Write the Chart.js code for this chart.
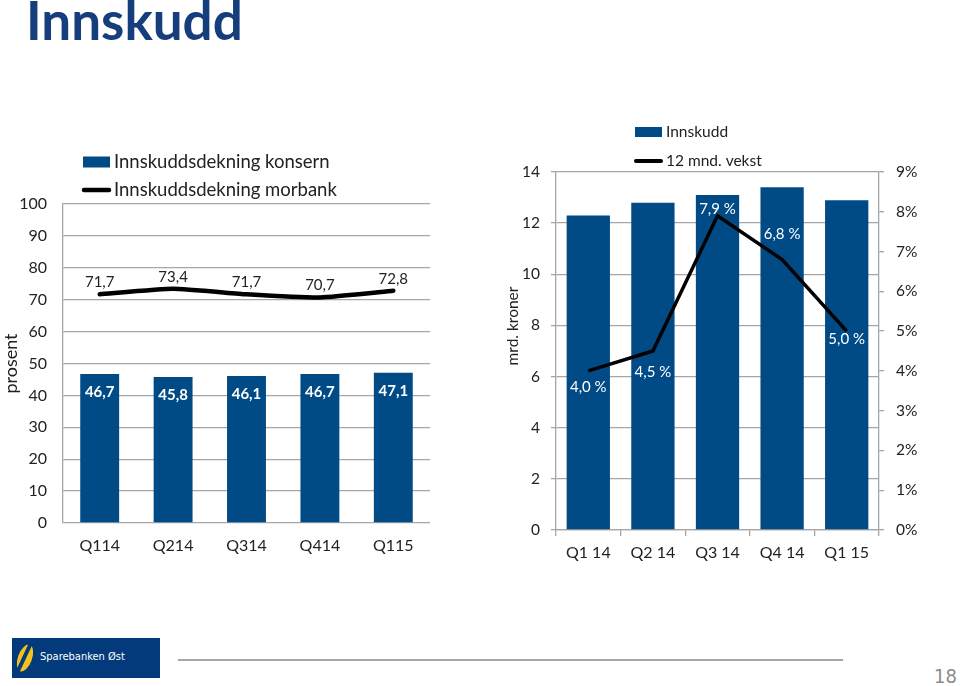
<!DOCTYPE html>
<html><head><meta charset="utf-8">
<script src="https://cdn.jsdelivr.net/npm/chart.js@4.4.1/dist/chart.umd.min.js"></script>
<style>
body{margin:0;width:960px;height:686px;background:#fff;position:relative;overflow:hidden;font-family:Lato,'Open Sans',sans-serif;}
#title{position:absolute;left:26px;top:-12px;font:bold 53px Lato,sans-serif;color:#163E7C;letter-spacing:0px;}
#c1{position:absolute;left:0;top:130px;}
#c2{position:absolute;left:480px;top:100px;}
#logo{position:absolute;left:12px;top:638px;width:148px;height:40px;background:#023A7B;overflow:hidden;}
#swoosh{position:absolute;left:6px;top:6px;width:14px;height:28px;border-radius:50%;background:#F5C21B;transform:rotate(20deg);}
#swoosh2{position:absolute;left:10px;top:4px;width:4px;height:32px;background:#023A7B;transform:rotate(25deg);}
#logotext{position:absolute;left:28px;top:12px;color:#fff;font:11px 'DejaVu Sans Condensed','DejaVu Sans',sans-serif;}
#hr{position:absolute;left:178px;top:659px;width:665px;height:2px;background:#A6A6A6;}
#page{position:absolute;left:934px;top:664px;font:20px 'Liberation Sans Narrow','DejaVu Sans Condensed',sans-serif;color:#8C8C8C;}
</style></head>
<body>
<div id="title">Innskudd</div>
<canvas id="c1" width="470" height="450"></canvas>
<canvas id="c2" width="480" height="480"></canvas>
<div id="logo"><div id="swoosh"></div><div id="swoosh2"></div><div id="logotext">Sparebanken Øst</div></div>
<div id="hr"></div>
<div id="page">18</div>
<script>
// ---- data ----
const leftCategories = ['Q114','Q214','Q314','Q414','Q115'];
const konsern = [46.7, 45.8, 46.1, 46.7, 47.1];
const morbank = [71.7, 73.4, 71.7, 70.7, 72.8];
const leftTicks = [0,10,20,30,40,50,60,70,80,90,100];

const rightCategories = ['Q1 14','Q2 14','Q3 14','Q4 14','Q1 15'];
const innskudd = [12.3, 12.8, 13.1, 13.4, 12.9];
const vekst = [4.0, 4.5, 7.9, 6.8, 5.0];
const rightTicksLeft = [0,2,4,6,8,10,12,14];
const rightTicksRight = [0,1,2,3,4,5,6,7,8,9];

const BAR = '#004A86';
const GRID = '#A6A6A6';
const TXT = '#222222';
const FONT = "Lato, 'Open Sans', sans-serif";
const fmt = v => v.toFixed(1).replace('.', ',');

// custom stacked legend
const stackLegend = {
  id: 'stackLegend',
  afterDraw(chart, args, o) {
    const ctx = chart.ctx;
    ctx.save();
    chart.data.datasets.forEach((ds, i) => {
      const y = o.y + i * o.gap;
      if (ds.type === 'line') {
        ctx.strokeStyle = '#000'; ctx.lineWidth = o.lw; ctx.lineCap = 'round';
        ctx.beginPath(); ctx.moveTo(o.x + 1, y); ctx.lineTo(o.x + o.boxW - 1, y); ctx.stroke();
      } else {
        ctx.fillStyle = ds.backgroundColor;
        ctx.fillRect(o.x, y - o.boxH / 2, o.boxW, o.boxH);
      }
      ctx.fillStyle = TXT;
      ctx.font = o.size + 'px ' + FONT;
      ctx.textBaseline = 'middle'; ctx.textAlign = 'left';
      ctx.fillText(ds.label, o.x + o.boxW + 4, y);
    });
    ctx.restore();
  }
};

// value labels
const valueLabels = {
  id: 'valueLabels',
  afterDatasetsDraw(chart, args, o) {
    const ctx = chart.ctx;
    ctx.save();
    (o.sets || []).forEach(s => {
      const meta = chart.getDatasetMeta(s.index);
      const data = chart.data.datasets[s.index].data;
      ctx.font = (s.bold ? 'bold ' : '') + s.size + 'px ' + FONT;
      ctx.fillStyle = s.color;
      ctx.textAlign = 'center'; ctx.textBaseline = 'middle';
      meta.data.forEach((el, j) => {
        const off = Array.isArray(s.offset) ? s.offset[j] : s.offset;
        ctx.fillText(s.format(data[j]), el.x, el.y + off);
      });
    });
    ctx.restore();
  }
};

// free text (axis title placed freely)
const freeText = {
  id: 'freeText',
  afterDraw(chart, args, o) {
    const ctx = chart.ctx;
    ctx.save();
    (o.items || []).forEach(t => {
      ctx.translate(t.x, t.y);
      ctx.rotate(t.rot || 0);
      ctx.font = t.size + 'px ' + FONT;
      ctx.fillStyle = TXT; ctx.textAlign = 'center'; ctx.textBaseline = 'middle';
      ctx.fillText(t.text, 0, 0);
      ctx.setTransform(1,0,0,1,0,0);
    });
    ctx.restore();
  }
};

Chart.defaults.font.family = FONT;
Chart.defaults.color = TXT;

new Chart(document.getElementById('c1'), {
  data: {
    labels: leftCategories,
    datasets: [
      { type: 'bar', label: 'Innskuddsdekning konsern', data: konsern, backgroundColor: BAR, barPercentage: 0.53, categoryPercentage: 1, order: 2 },
      { type: 'line', label: 'Innskuddsdekning morbank', data: morbank, borderColor: '#000', borderWidth: 4.5, pointRadius: 0, tension: 0.15, order: 1, borderCapStyle: 'round' }
    ]
  },
  options: {
    responsive: false, animation: false,
    layout: { padding: { top: 74, left: 0, right: 40, bottom: 17 } },
    plugins: {
      legend: { display: false }, tooltip: { enabled: false },
      stackLegend: { x: 83, y: 32, gap: 28, boxW: 27, boxH: 11, size: 18.5, lw: 4.5 },
      valueLabels: { sets: [
        { index: 0, offset: 18, color: '#fff', bold: true, size: 15, format: fmt },
        { index: 1, offset: -12, color: TXT, bold: false, size: 15, format: fmt }
      ] }
    },
    scales: {
      x: {
        grid: { display: false }, border: { display: false },
        ticks: { font: { size: 16 }, padding: 5, color: TXT },
        afterFit: s => { s.height = 40; }
      },
      y: {
        min: 0, max: 100,
        afterBuildTicks: s => { s.ticks = leftTicks.map(v => ({ value: v })); },
        grid: { color: GRID, drawTicks: false, lineWidth: 1.3 },
        border: { display: true, color: GRID, width: 1.3 },
        ticks: { font: { size: 16 }, padding: 16, color: TXT },
        title: { display: true, text: 'prosent', font: { size: 18 }, padding: { top: 0, bottom: 0 }, color: TXT },
        afterFit: s => { s.width = 63; }
      }
    }
  },
  plugins: [stackLegend, valueLabels]
});

new Chart(document.getElementById('c2'), {
  data: {
    labels: rightCategories,
    datasets: [
      { type: 'bar', label: 'Innskudd', data: innskudd, backgroundColor: BAR, barPercentage: 0.67, categoryPercentage: 1, yAxisID: 'y', order: 2 },
      { type: 'line', label: '12 mnd. vekst', data: vekst, borderColor: '#000', borderWidth: 3.5, pointRadius: 0, tension: 0, yAxisID: 'y1', order: 1 }
    ]
  },
  options: {
    responsive: false, animation: false,
    layout: { padding: { top: 72, left: 0, right: 0, bottom: 0 } },
    plugins: {
      legend: { display: false }, tooltip: { enabled: false },
      stackLegend: { x: 155, y: 32, gap: 29, boxW: 27, boxH: 10, size: 15.5, lw: 4 },
      valueLabels: { sets: [
        { index: 1, offset: [16, 21, -7, -25, 8], color: '#fff', bold: false, size: 15, format: v => fmt(v) + ' %' }
      ] },
      freeText: { items: [ { text: 'mrd. kroner', x: 33, y: 226, rot: -Math.PI / 2, size: 15.5 } ] }
    },
    scales: {
      x: {
        grid: { display: true, drawOnChartArea: false, drawTicks: true, tickLength: 6, color: GRID, offset: true, lineWidth: 1.3 },
        border: { display: true, color: GRID, width: 1.3 },
        ticks: { font: { size: 16 }, padding: 7, color: TXT },
        afterFit: s => { s.height = 50; }
      },
      y: {
        position: 'left', min: 0, max: 14,
        afterBuildTicks: s => { s.ticks = rightTicksLeft.map(v => ({ value: v })); },
        grid: { color: GRID, drawTicks: true, tickLength: 5, lineWidth: 1.3 },
        border: { display: true, color: GRID, width: 1.3 },
        ticks: { font: { size: 15.5 }, padding: 11, color: TXT },
        afterFit: s => { s.width = 76; }
      },
      y1: {
        position: 'right', min: 0, max: 9,
        afterBuildTicks: s => { s.ticks = rightTicksRight.map(v => ({ value: v })); },
        grid: { drawOnChartArea: false, drawTicks: true, tickLength: 5, color: GRID, lineWidth: 1.3 },
        border: { display: true, color: GRID, width: 1.3 },
        ticks: { font: { size: 15.5 }, padding: 12, color: TXT, callback: v => v + '%' },
        afterFit: s => { s.width = 81; }
      }
    }
  },
  plugins: [stackLegend, valueLabels, freeText]
});
</script>
</body></html>
